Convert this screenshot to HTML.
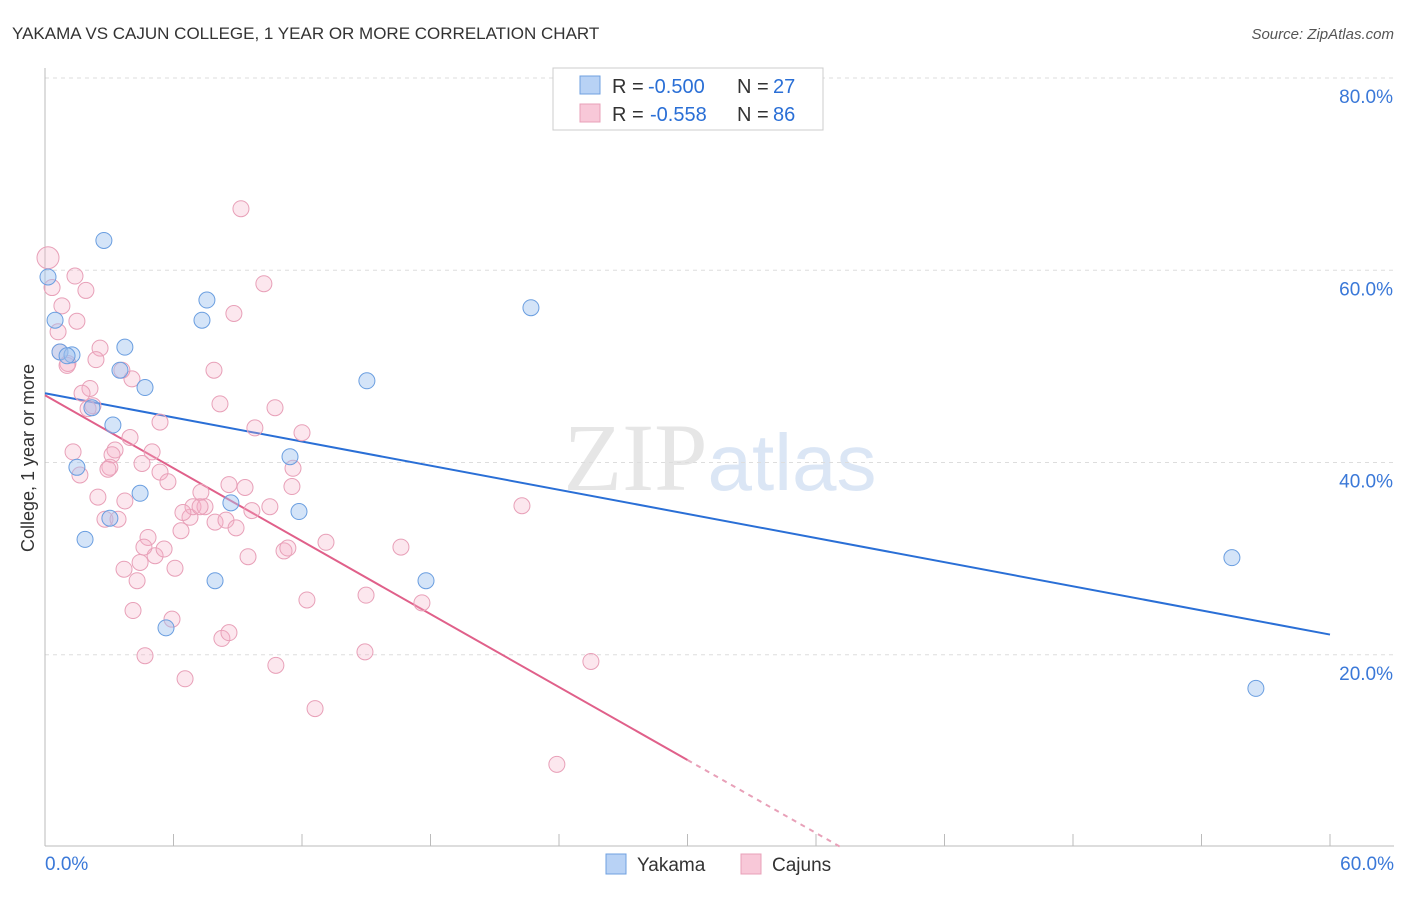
<!DOCTYPE html>
<html><head><meta charset="utf-8"><style>
body{margin:0;background:#fff;font-family:"Liberation Sans",sans-serif;}
</style></head><body>
<svg width="1406" height="892" xmlns="http://www.w3.org/2000/svg" font-family="Liberation Sans, sans-serif">
<text x="12" y="39" font-size="17" fill="#333">YAKAMA VS CAJUN COLLEGE, 1 YEAR OR MORE CORRELATION CHART</text>
<text x="1394" y="39" font-size="15" fill="#555" text-anchor="end" font-style="italic">Source: ZipAtlas.com</text>
<text x="720" y="490" font-size="96" text-anchor="middle" fill="#e6e6e6" font-family="Liberation Serif, serif">ZIP<tspan fill="#dbe6f5" font-family="Liberation Sans, sans-serif" font-size="80">atlas</tspan></text>
<g id="grid"></g>
<g id="axes"></g>
<g id="lines"></g>
<g id="pts"></g>
<text transform="translate(34,458) rotate(-90)" font-size="18" fill="#333" text-anchor="middle">College, 1 year or more</text>
<g>
<rect x="553" y="68" width="270" height="62" fill="#fff" stroke="#ccc"/>
<rect x="580" y="76" width="20" height="18" fill="#b8d2f5" stroke="#6fa0e0"/>
<rect x="580" y="104" width="20" height="18" fill="#f8c8d8" stroke="#e8a0b8"/>
<text x="612" y="93" font-size="20" fill="#333">R =</text>
<text x="648" y="93" font-size="20" fill="#2a6fd6">-0.500</text>
<text x="737" y="93" font-size="20" fill="#333">N =</text>
<text x="773" y="93" font-size="20" fill="#2a6fd6">27</text>
<text x="612" y="121" font-size="20" fill="#333">R =</text>
<text x="650" y="121" font-size="20" fill="#2a6fd6">-0.558</text>
<text x="737" y="121" font-size="20" fill="#333">N =</text>
<text x="773" y="121" font-size="20" fill="#2a6fd6">86</text>
</g>
<g>
<rect x="606" y="854" width="20" height="20" fill="#b8d2f5" stroke="#6fa0e0"/>
<text x="637" y="871" font-size="19" fill="#333">Yakama</text>
<rect x="741" y="854" width="20" height="20" fill="#f8c8d8" stroke="#e8a0b8"/>
<text x="772" y="871" font-size="19" fill="#333">Cajuns</text>
</g>
</svg>
<script>
const blueX=[0.14,2.75,0.47,0.70,1.26,1.03,3.73,3.50,4.67,7.56,7.33,2.19,3.17,1.49,4.44,3.03,1.87,8.68,11.44,11.86,7.94,5.65,15.03,17.79,22.69,55.42,56.54];
const blueY=[59.3,63.1,54.8,51.5,51.2,51.1,52.0,49.6,47.8,56.9,54.8,45.7,43.9,39.5,36.8,34.2,32.0,35.8,40.6,34.9,27.7,22.8,48.5,27.7,56.1,30.1,16.5];
const pinkX=[0.14,0.33,1.40,1.91,0.79,1.49,0.61,0.70,1.07,1.03,2.57,2.38,4.06,3.59,2.10,1.73,2.24,2.01,5.37,3.97,5.00,3.27,3.13,3.03,2.94,4.53,5.37,5.74,1.31,1.63,2.47,3.73,2.80,3.41,4.81,5.14,5.56,4.44,3.69,4.30,6.07,4.11,5.93,4.67,6.54,6.35,6.77,7.28,6.91,7.47,7.94,8.45,8.92,8.59,9.34,9.66,9.48,7.89,8.17,8.82,9.15,10.22,9.80,10.74,11.58,12.00,11.53,10.50,11.16,11.34,13.12,8.26,8.59,10.78,12.23,12.61,14.99,14.94,16.62,17.60,22.27,25.49,23.90,7.24,6.44,4.62];
const pinkY=[61.3,58.2,59.4,57.9,56.3,54.7,53.6,51.5,50.3,50.1,51.9,50.7,48.7,49.6,47.7,47.2,45.9,45.6,44.2,42.6,41.1,41.3,40.8,39.5,39.3,39.9,39.0,38.0,41.1,38.7,36.4,36.0,34.1,34.1,32.2,30.3,31.0,29.6,28.9,27.7,29.0,24.6,23.7,19.9,17.5,32.9,34.3,36.9,35.4,35.4,33.8,34.0,33.2,37.7,37.4,35.0,30.2,49.6,46.1,55.5,66.4,58.6,43.6,45.7,39.4,43.1,37.5,35.4,30.8,31.1,31.7,21.7,22.3,18.9,25.7,14.4,26.2,20.3,31.2,25.4,35.5,19.3,8.6,35.4,34.8,31.2];
const yTicks=[20,40,60,80];
const xTicks=[0,6,12,18,24,30,36,42,48,54,60];
const blueLine=[[0,47.2],[60,22.1]];
const pinkSolid=[[0,47.0],[30,9.05]];
const pinkDash=[[30,9.05],[37.15,0]];
const NS="http://www.w3.org/2000/svg";
const sx=v=>45+v*(1285/60);
const sy=v=>847-v*(769/80);
function mk(tag,attrs,parent){const e=document.createElementNS(NS,tag);for(const k in attrs)e.setAttribute(k,attrs[k]);parent.appendChild(e);return e;}
const grid=document.getElementById('grid'),axes=document.getElementById('axes'),lines=document.getElementById('lines'),pts=document.getElementById('pts');
yTicks.forEach(t=>{
 const l=mk('line',{x1:45,x2:1394,y1:sy(t),y2:sy(t),stroke:'#ddd','stroke-dasharray':'4,4'},grid);
 
 
 const tx=mk('text',{x:1393,y:sy(t)+25,'font-size':19,fill:'#3a78d8','text-anchor':'end'},grid);
 tx.textContent=t.toFixed(1)+'%';
 
 
});
mk('line',{x1:45,x2:45,y1:68,y2:846,stroke:'#bbb'},axes);
mk('line',{x1:45,x2:1394,y1:846,y2:846,stroke:'#bbb'},axes);
xTicks.forEach(t=>{
 const l=mk('line',{x1:sx(t),x2:sx(t),y1:834,y2:846,stroke:'#bbb'},axes);
 
 
});
[[0,'start',45],[60,'end',1394]].forEach(([v,a,x])=>{
 const tx=mk('text',{x:x,y:870,'font-size':19,fill:'#3a78d8','text-anchor':a},axes);
 tx.textContent=v.toFixed(1)+'%';
 
 
});
function seg(p,stroke,dash,name){
 const l=mk('line',{x1:sx(p[0][0]),y1:sy(p[0][1]),x2:sx(p[1][0]),y2:sy(p[1][1]),stroke:stroke,'stroke-width':2},lines);
 if(dash)l.setAttribute('stroke-dasharray',dash);
 
 
}
pinkX.forEach((x,i)=>{
 const c=mk('circle',{cx:sx(x),cy:sy(pinkY[i]),r:i===0?11:8,fill:'rgba(245,175,198,0.3)',stroke:'#e8a0b8','stroke-width':1},pts);
 
 
});
blueX.forEach((x,i)=>{
 const c=mk('circle',{cx:sx(x),cy:sy(blueY[i]),r:8,fill:'rgba(160,195,240,0.45)',stroke:'#6a9ee0','stroke-width':1},pts);
 
 
});
seg(blueLine,'#2a6fd6',null,'yakama-trend-line');
seg(pinkSolid,'#e0608a',null,'cajuns-trend-line');
seg(pinkDash,'#e8a0b8','5,5','cajuns-trend-extension');
</script>
</body></html>
